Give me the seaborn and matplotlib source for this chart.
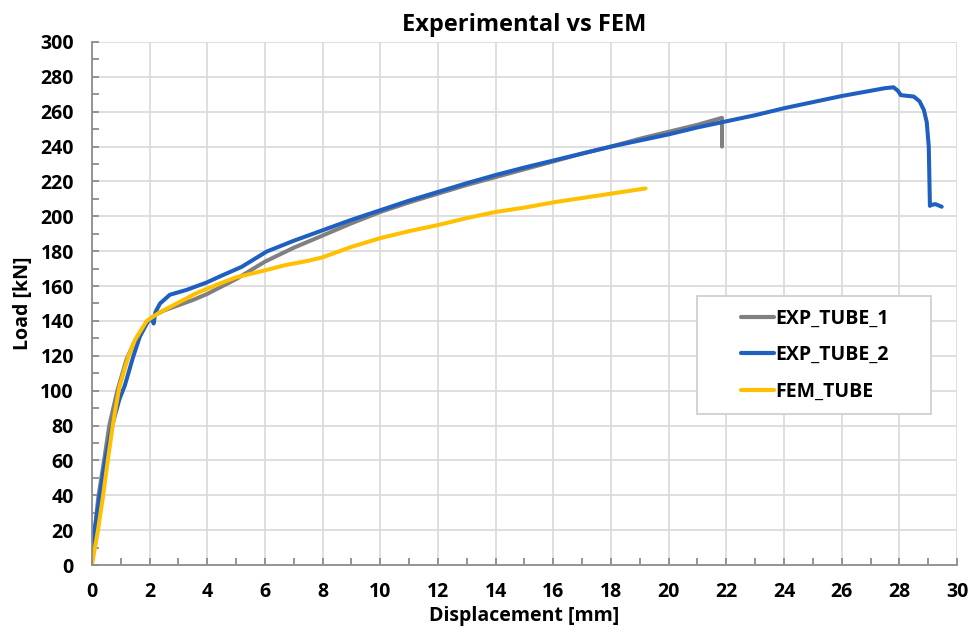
import matplotlib
matplotlib.use("Agg")
import matplotlib.pyplot as plt
from matplotlib.ticker import MultipleLocator
from matplotlib.patches import Rectangle
import seaborn as sns
import pandas as pd

# ---- data ----
exp1_x = [0, 0.1, 0.22, 0.42, 0.6, 0.88, 1.2, 1.5, 1.9, 2.2, 2.5, 3.0, 3.5, 4.0, 5, 6, 7, 8, 9,
          10, 11, 12, 13, 14, 15, 16, 17, 18, 19, 20, 21, 21.85, 21.85]
exp1_y = [5, 20, 39, 60, 80, 100, 118, 129, 139, 143.5, 146, 149, 152, 155.5, 164, 174, 182, 189, 196,
          202.5, 208, 213, 218, 222.5, 227, 231.5, 236, 240, 244.5, 248.5, 252.5, 256.5, 240]

exp2_x = [0, 0.09, 0.26, 0.46, 0.7, 0.95, 1.14, 1.43, 1.66, 1.95, 2.08, 2.14, 2.2, 2.36, 2.7, 3.28,
          3.97, 4.5, 5.19, 6.06, 7, 8, 9, 10, 11, 12, 13, 14, 15, 16, 17, 18, 19, 20, 21, 22, 23, 24,
          25, 26, 27, 27.5, 27.8, 27.95, 28.05, 28.5, 28.7, 28.85, 28.95, 29.02, 29.06, 29.1, 29.25,
          29.47]
exp2_y = [9, 20, 39, 60, 80, 95, 103, 119.5, 131, 140, 142, 138.5, 145, 150, 155, 157.8,
          162, 166, 171, 179.8, 186, 192, 198, 203.5, 209, 214, 219, 223.7, 228, 232, 236, 240, 243.5,
          247, 251, 254.5, 258, 262, 265.5, 269, 272, 273.5, 274, 272, 269.5, 268.7, 266, 261, 254,
          240, 206, 206.5, 207, 205.5]

fem_x = [0, 0.21, 0.38, 0.55, 0.72, 0.95, 1.26, 1.49, 1.9, 2.3, 2.82, 3.63, 4.37, 5.0, 6, 6.7,
         7.5, 8.0, 9, 10, 11, 12, 13, 14, 15, 16, 17, 18, 18.6, 19.2]
fem_y = [0, 20, 39, 60, 80, 102, 119.5, 129, 140, 144.4, 149, 156, 161, 165, 169, 172,
         174.5, 176.5, 182.5, 187.5, 191.5, 195, 199, 202.5, 205, 208, 210.5, 213, 214.5, 216]

series_names = ["EXP_TUBE_1", "EXP_TUBE_2", "FEM_TUBE"]
colors = ["#808080", "#1F5FBF", "#FFC000"]

x_ticks = list(range(0, 31, 2))
y_ticks = list(range(0, 301, 20))

frames = []
for name, xs, ys in zip(series_names, [exp1_x, exp2_x, fem_x], [exp1_y, exp2_y, fem_y]):
    df = pd.DataFrame({"Displacement": xs, "Load": ys})
    df["Series"] = name
    frames.append(df)
data = pd.concat(frames, ignore_index=True)

sns.set_style("white")
plt.rcParams["font.family"] = ["Open Sans", "DejaVu Sans"]
plt.rcParams["text.color"] = "black"
plt.rcParams["axes.labelcolor"] = "black"

fig = plt.figure(figsize=(9.71, 6.36), dpi=100)
ax = fig.add_axes([0.0947, 0.1116, 0.8909, 0.8224])

sns.lineplot(data=data, x="Displacement", y="Load", hue="Series",
             estimator=None, sort=False, palette=dict(zip(series_names, colors)),
             linewidth=2.9, ax=ax)

ax.set_xlim(0, 30)
ax.set_ylim(0, 300)
ax.set_xticks(x_ticks)
ax.set_yticks(y_ticks)
ax.xaxis.set_minor_locator(MultipleLocator(1))
ax.yaxis.set_minor_locator(MultipleLocator(10))
ax.grid(True, which="major", color="#D9D9D9", linewidth=1.2)
ax.set_axisbelow(True)

for s in ["top", "right"]:
    ax.spines[s].set_visible(False)
for s in ["left", "bottom"]:
    ax.spines[s].set_color("#8C8C8C")
    ax.spines[s].set_linewidth(1.3)

ax.tick_params(which="both", direction="in", color="#8C8C8C", width=1.3, length=5,
               labelsize=14, labelcolor="#000000", bottom=True, left=True)
ax.tick_params(axis="y", pad=13)
ax.tick_params(axis="x", pad=12)
for lab in ax.get_xticklabels() + ax.get_yticklabels():
    lab.set_fontweight("bold")

ax.set_xlabel("Displacement [mm]", fontsize=14, fontweight="bold", labelpad=3, color="black")
ax.set_ylabel("Load [kN]", fontsize=14, fontweight="bold", labelpad=5, color="black")
ax.set_title("Experimental vs FEM", fontsize=17, fontweight="bold", pad=8, color="black")

# legend frame drawn as a box, legend content centred in it
frame = Rectangle((0.70, 0.289), 0.2705, 0.225, transform=ax.transAxes, facecolor="white",
                  edgecolor="#D0D0D0", linewidth=1.3, zorder=4)
ax.add_patch(frame)
handles, labels = ax.get_legend_handles_labels()
leg = ax.legend(handles, labels, loc="center", bbox_to_anchor=(0.8358, 0.4017),
                frameon=False, prop={"size": 14, "weight": "bold"}, handlelength=1.7,
                handletextpad=0.1, labelspacing=0.85, borderpad=0)
leg.set_zorder(5)
for line in leg.get_lines():
    line.set_linewidth(3.0)
for t in leg.get_texts():
    t.set_color("black")

fig.savefig("out.png", dpi=100)
